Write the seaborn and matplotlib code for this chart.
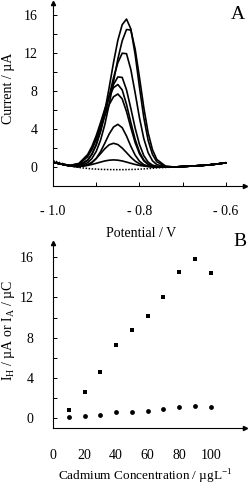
import matplotlib
matplotlib.use("Agg")
import matplotlib.pyplot as plt
import pandas as pd
import seaborn as sns

# panel A: stripping voltammograms, current (uA) vs potential (V)
potential = [-1.00, -0.98, -0.96, -0.94, -0.92, -0.91, -0.90, -0.89, -0.88, -0.87,
             -0.86, -0.85, -0.84, -0.83, -0.82, -0.81, -0.80, -0.79, -0.78, -0.77,
             -0.76, -0.74, -0.72, -0.70, -0.68, -0.66, -0.64, -0.62, -0.60]

scan_90 = [0.5, 0.3, 0.12, 0.15, 0.69, 1.33, 2.36, 3.88, 5.94, 8.41, 11.03, 13.37, 15.01, 15.6,
           14.57, 11.86, 8.41, 5.21, 2.81, 1.33, 0.55, 0.06, 0.0, 0.05, 0.1, 0.15, 0.22, 0.32, 0.45]
scan_80 = [0.5, 0.3, 0.1, 0.09, 0.45, 0.90, 1.65, 2.84, 4.51, 6.64, 9.03, 11.40, 13.30, 14.5,
           14.45, 12.43, 9.44, 6.26, 3.61, 1.83, 0.80, 0.10, 0.0, 0.05, 0.1, 0.15, 0.22, 0.32, 0.45]
scan_70 = [0.5, 0.3, 0.1, 0.17, 0.74, 1.37, 2.35, 3.73, 5.50, 7.48, 9.43, 11.00, 12.0, 11.95,
           10.28, 7.81, 5.18, 2.99, 1.51, 0.66, 0.25, 0.02, 0.0, 0.05, 0.1, 0.15, 0.22, 0.32, 0.45]
scan_60 = [0.5, 0.3, 0.16, 0.29, 1.08, 1.86, 2.95, 4.35, 5.92, 7.47, 8.71, 9.5, 9.45, 8.14,
           6.18, 4.10, 2.37, 1.20, 0.52, 0.20, 0.07, 0.0, 0.0, 0.05, 0.1, 0.15, 0.22, 0.32, 0.45]
scan_50 = [0.5, 0.3, 0.18, 0.38, 1.31, 2.17, 3.31, 4.69, 6.15, 7.46, 8.37, 8.7, 8.13, 6.61,
           4.69, 2.91, 1.57, 0.74, 0.30, 0.10, 0.03, 0.0, 0.0, 0.05, 0.1, 0.15, 0.22, 0.32, 0.45]
scan_40 = [0.5, 0.3, 0.17, 0.34, 1.16, 1.92, 2.93, 4.15, 5.44, 6.60, 7.41, 7.7, 7.19, 5.85,
           4.15, 2.57, 1.39, 0.65, 0.27, 0.09, 0.03, 0.0, 0.0, 0.05, 0.1, 0.15, 0.22, 0.32, 0.45]
scan_30 = [0.5, 0.3, 0.1, 0.03, 0.20, 0.45, 0.91, 1.62, 2.53, 3.49, 4.22, 4.5, 4.15, 3.27,
           2.19, 1.25, 0.61, 0.25, 0.09, 0.03, 0.0, 0.0, 0.0, 0.05, 0.1, 0.15, 0.22, 0.32, 0.45]
scan_20 = [0.5, 0.3, 0.1, 0.04, 0.25, 0.51, 0.90, 1.41, 1.94, 2.35, 2.5, 2.37, 2.00, 1.52,
           1.03, 0.62, 0.34, 0.17, 0.07, 0.03, 0.0, 0.0, 0.0, 0.05, 0.1, 0.15, 0.22, 0.32, 0.45]
scan_10 = [0.5, 0.3, 0.1, 0.05, 0.17, 0.27, 0.39, 0.52, 0.64, 0.72, 0.75, 0.72, 0.64, 0.52,
           0.39, 0.27, 0.17, 0.10, 0.05, 0.02, 0.0, 0.0, 0.0, 0.05, 0.1, 0.15, 0.22, 0.32, 0.45]
blank = [0.7, 0.4, 0.1, -0.05, -0.15, -0.2, -0.22, -0.25, -0.26, -0.27, -0.28, -0.28, -0.28, -0.27,
         -0.26, -0.25, -0.23, -0.2, -0.17, -0.14, -0.1, -0.05, 0.0, 0.05, 0.1, 0.15, 0.22, 0.32, 0.45]

# panel B: peak height and peak area vs cadmium concentration
conc = [10, 20, 30, 40, 50, 60, 70, 80, 90, 100]
peak_height = [0.83, 2.58, 4.6, 7.26, 8.81, 10.14, 12.03, 14.55, 15.77, 14.38]
peak_area = [0.1, 0.27, 0.36, 0.6, 0.66, 0.73, 0.9, 1.16, 1.26, 1.16]

x_ticks_a = [-1.0, -0.8, -0.6]
x_labels_a = ["- 1.0", "- 0.8", "- 0.6"]
x_ticks_b = [0, 20, 40, 60, 80, 100]
y_ticks = [0, 4, 8, 12, 16]

sns.set_theme(style="white")
plt.rcParams["font.family"] = ["Liberation Serif", "DejaVu Serif"]
plt.rcParams["mathtext.fontset"] = "custom"
plt.rcParams["mathtext.rm"] = "Liberation Serif"
plt.rcParams["text.color"] = "black"
plt.rcParams["axes.labelcolor"] = "black"
plt.rcParams["xtick.color"] = "black"
plt.rcParams["ytick.color"] = "black"

fig = plt.figure(figsize=(2.48, 4.88), dpi=100)
ax1 = fig.add_axes([0.2137, 0.6189, 0.7742, 0.375])
ax2 = fig.add_axes([0.2137, 0.1223, 0.7742, 0.3797])


def style_axis(ax):
    for side in ("top", "right"):
        ax.spines[side].set_visible(False)
    for side in ("left", "bottom"):
        ax.spines[side].set_color("black")
        ax.spines[side].set_linewidth(0.8)
    ax.plot(1, 0, ">", color="black", ms=3, transform=ax.transAxes, clip_on=False)
    ax.plot(0, 1, "^", color="black", ms=3, transform=ax.transAxes, clip_on=False)
    ax.set_yticks(y_ticks)
    ax.set_yticks([2, 6, 10, 14], minor=True)
    ax.tick_params(axis="y", which="both", direction="in", length=3, width=0.7,
                   left=True, labelsize=10, pad=11)
    ax.grid(False)


scans = {"90": scan_90, "80": scan_80, "70": scan_70, "60": scan_60, "50": scan_50,
         "40": scan_40, "30": scan_30, "20": scan_20, "10": scan_10}
rows = []
for name, vals in scans.items():
    for v, c in zip(potential, vals):
        rows.append({"scan": name, "potential": v, "current": c})
df = pd.DataFrame(rows)

sns.lineplot(data=df, x="potential", y="current", units="scan", estimator=None,
             color="black", lw=1.2, ax=ax1)
sns.lineplot(x=potential, y=blank, color="black", lw=1.1, ls=(0, (1, 1)), ax=ax1)
ax1.set_xlim(-1.0, -0.556)
ax1.set_ylim(-2, 17.3)
style_axis(ax1)
ax1.set_xticks(x_ticks_a)
ax1.set_xticklabels(x_labels_a)
ax1.set_xticks([-0.9, -0.7], minor=True)
ax1.tick_params(axis="x", which="both", direction="in", length=3, width=0.7,
                bottom=True, labelsize=10, pad=14)
ax1.set_xlabel("Potential / V", fontsize=10)
ax1.xaxis.set_label_coords(0.46, -0.222)
ax1.set_ylabel("Current / µA", fontsize=10)
ax1.yaxis.set_label_coords(-0.2, 0.535)
ax1.text(0.965, 0.985, "A", transform=ax1.transAxes, fontsize=14, va="top", ha="center")

sns.scatterplot(x=conc, y=peak_height, marker="s", s=11, color="black", linewidth=0, ax=ax2)
sns.scatterplot(x=conc, y=peak_area, marker="o", s=12, color="black", linewidth=0, ax=ax2)
ax2.set_xlim(0, 121.7)
ax2.set_ylim(-1, 17.4)
style_axis(ax2)
ax2.set_xticks(x_ticks_b)
ax2.tick_params(axis="x", length=0, labelsize=10, pad=15)
ax2.tick_params(axis="y", pad=14)
ax2.set_xlabel("Cadmium Concentration / µgL$^{-1}$", fontsize=9.5)
ax2.xaxis.set_label_coords(0.48, -0.215)
ax2.set_ylabel("I$_{\\mathrm{H}}$ / µA or I$_{\\mathrm{A}}$ / µC", fontsize=10)
ax2.yaxis.set_label_coords(-0.19, 0.53)
ax2.text(0.975, 1.054, "B", transform=ax2.transAxes, fontsize=14, va="top", ha="center")

fig.savefig("out.png", dpi=100)
